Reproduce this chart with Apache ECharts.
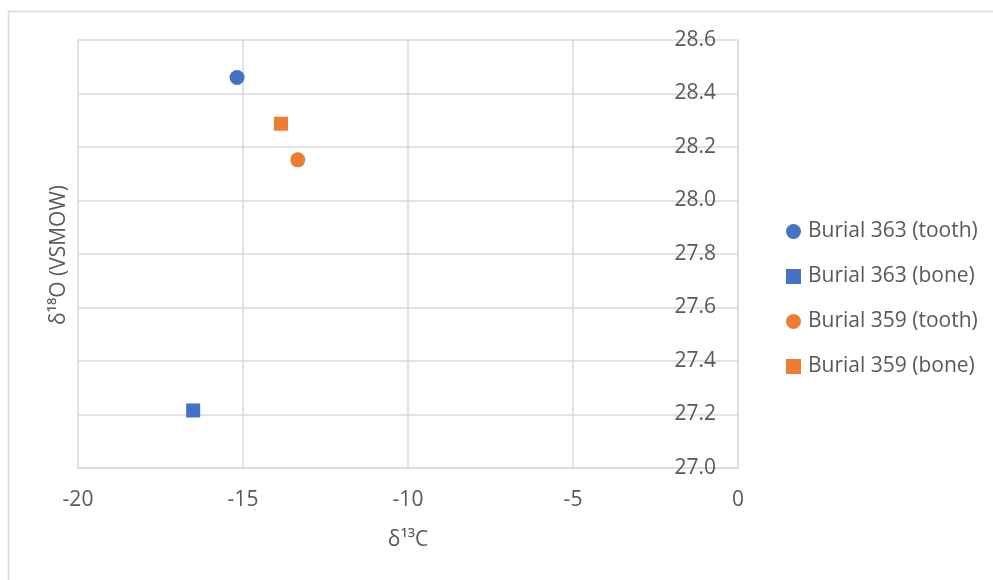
<!DOCTYPE html>
<html>
<head>
<meta charset="utf-8">
<script src="https://cdn.jsdelivr.net/npm/echarts@6/dist/echarts.min.js"></script>
<style>html,body{margin:0;padding:0;background:#fff;}#chart{width:993px;height:580px;}</style>
</head>
<body>
<div id="chart"></div>
<script>
const seriesNames = ['Burial 363 (tooth)', 'Burial 363 (bone)', 'Burial 359 (tooth)', 'Burial 359 (bone)'];
const seriesColors = ['#4472C4', '#4472C4', '#ED7D31', '#ED7D31'];
const seriesSymbols = ['circle', 'rect', 'circle', 'rect'];
const burial363Tooth = [[-15.18, 28.46]];
const burial363Bone = [[-16.51, 27.215]];
const burial359Tooth = [[-13.34, 28.152]];
const burial359Bone = [[-13.85, 28.287]];
const xTitle = 'δ¹³C';
const yTitle = 'δ¹⁸O (VSMOW)';

const allData = [burial363Tooth, burial363Bone, burial359Tooth, burial359Bone];
const FONT = '"Open Sans", "Noto Sans", sans-serif';
const TXT = '#595959';
const GRID = '#d9d9d9';
const FS = 21;

const chart = echarts.init(document.getElementById('chart'));
chart.setOption({
  animation: false,
  textStyle: { fontFamily: FONT },
  grid: { left: 78, right: 255, top: 40, bottom: 112, containLabel: false },
  xAxis: {
    type: 'value', min: -20, max: 0, interval: 5,
    axisLine: { show: true, lineStyle: { color: GRID, width: 1.5 } },
    axisTick: { show: false },
    axisLabel: { color: TXT, fontSize: FS, margin: 22, fontFamily: FONT },
    splitLine: { show: true, lineStyle: { color: GRID, width: 1.5 } },
    name: xTitle, nameLocation: 'middle', nameGap: 62,
    nameTextStyle: { color: TXT, fontSize: FS, fontFamily: FONT }
  },
  yAxis: {
    type: 'value', min: 27.0, max: 28.6, interval: 0.2, position: 'right',
    axisLine: { show: true, lineStyle: { color: GRID, width: 1.5 } },
    axisTick: { show: false },
    axisLabel: { inside: true, color: TXT, fontSize: FS, margin: 22, fontFamily: FONT,
      formatter: v => v.toFixed(1) },
    splitLine: { show: true, lineStyle: { color: GRID, width: 1.5 } }
  },
  legend: {
    orient: 'vertical', left: 786, top: 221, padding: 0, itemWidth: 15, itemHeight: 15, itemGap: 24,
    textStyle: { color: TXT, fontSize: FS, fontFamily: FONT, padding: [0, 0, 0, 2] },
    data: seriesNames.map((n, i) => ({ name: n, icon: seriesSymbols[i] === 'rect' ? 'rect' : 'circle',
      itemStyle: { color: seriesColors[i], opacity: 1 } }))
  },
  graphic: [
    { type: 'rect', shape: { x: 8.5, y: 11.5, width: 1200, height: 800 }, style: { fill: 'none', stroke: GRID, lineWidth: 1.5 }, silent: true },
    { type: 'text', x: 59, y: 255, rotation: Math.PI / 2, style: { text: yTitle, fill: TXT, font: FS + 'px ' + FONT, textAlign: 'center', textVerticalAlign: 'middle' } }
  ],
  series: allData.map((d, i) => ({
    name: seriesNames[i], type: 'scatter', data: d,
    symbol: seriesSymbols[i], symbolSize: seriesSymbols[i] === 'rect' ? 14 : 15,
    itemStyle: { color: seriesColors[i], opacity: 1 }
  }))
});
</script>
</body>
</html>
